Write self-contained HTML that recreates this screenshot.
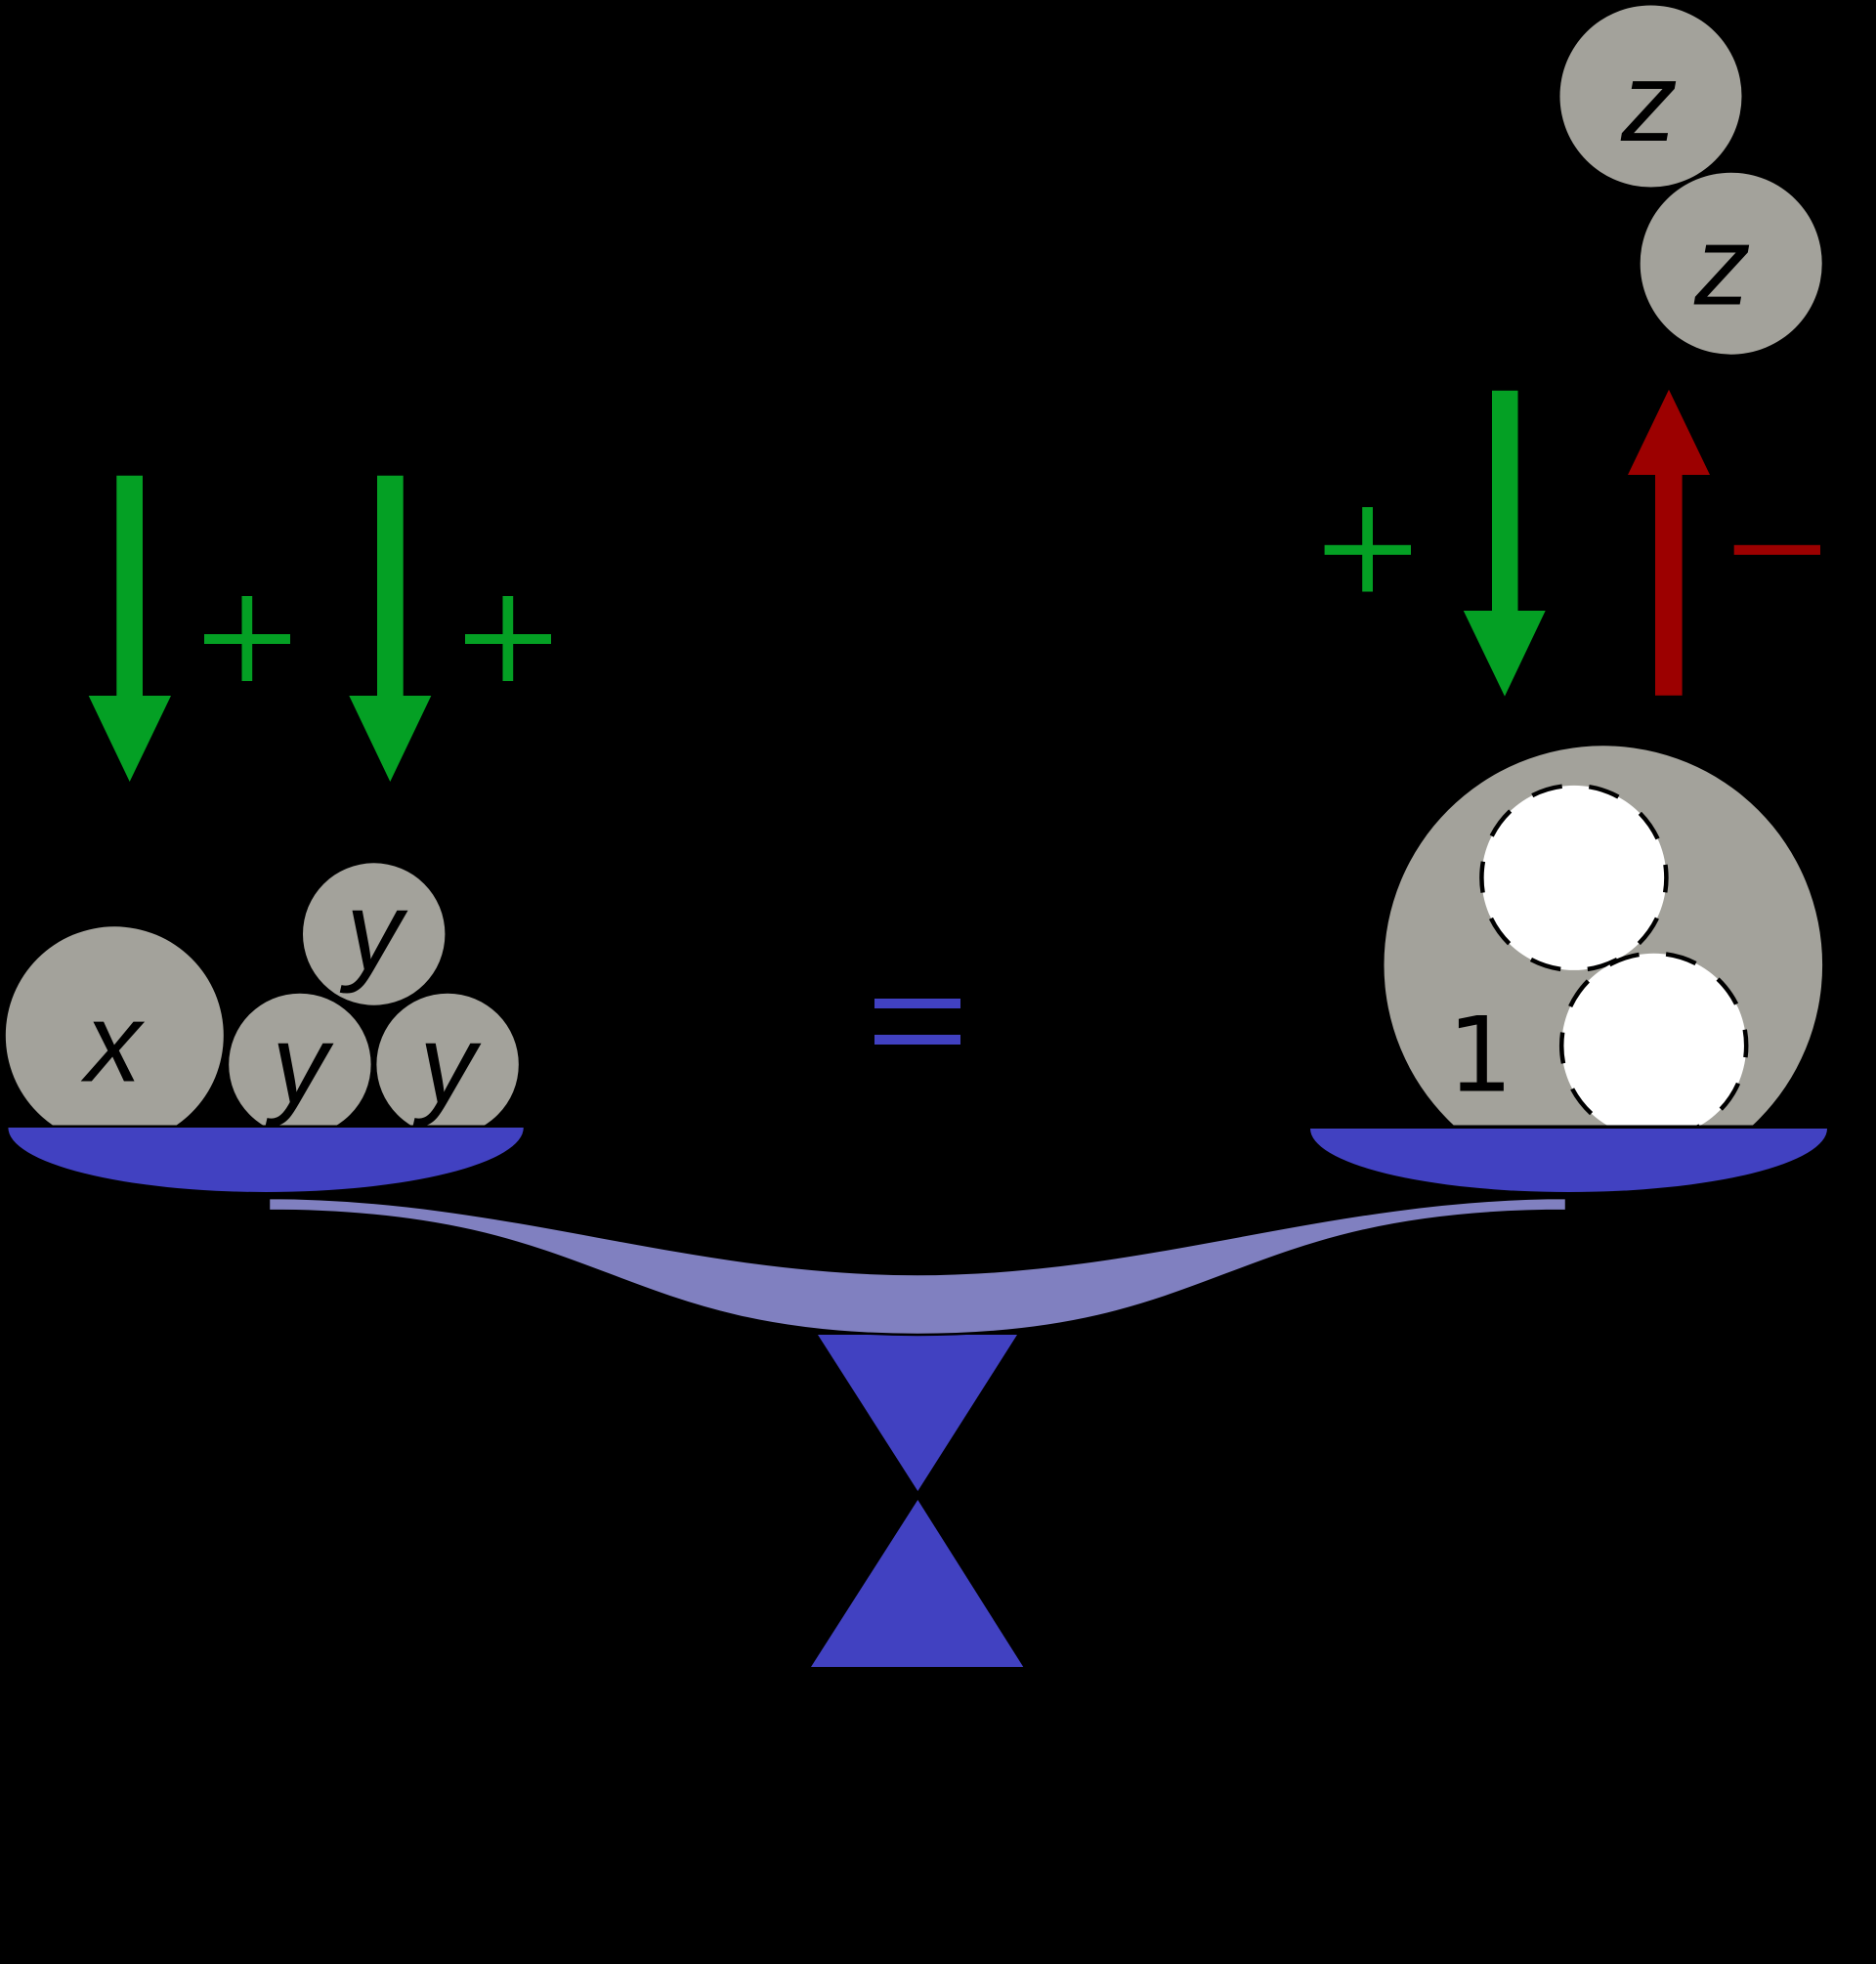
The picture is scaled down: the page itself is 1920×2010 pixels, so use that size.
<!DOCTYPE html>
<html>
<head>
<meta charset="utf-8">
<style>
html,body{margin:0;padding:0;background:#000;}
svg{display:block;}
text{font-family:"Liberation Sans","DejaVu Sans",sans-serif;fill:#000;}
</style>
</head>
<body>
<svg width="1920" height="2010" viewBox="0 0 1920 2010" xmlns="http://www.w3.org/2000/svg">
<defs>
<clipPath id="above">
<rect x="0" y="0" width="1920" height="1151.5"/>
</clipPath>
</defs>
<rect x="0" y="0" width="1920" height="2010" fill="#000"/>

<!-- Left green arrows -->
<polygon points="119.3,486.7 146,486.7 146,712 175,712 132.7,800 90.7,712 119.3,712" fill="#04a024"/>
<polygon points="386,486.7 412.7,486.7 412.7,712 441.3,712 399.3,800 357.3,712 386,712" fill="#04a024"/>
<!-- plus signs -->
<rect x="209" y="649" width="88" height="10" fill="#04a024"/>
<rect x="247.5" y="610" width="10.7" height="87" fill="#04a024"/>
<rect x="476" y="649" width="88" height="10" fill="#04a024"/>
<rect x="514.5" y="610" width="10.7" height="87" fill="#04a024"/>

<!-- Right green arrow -->
<polygon points="1527,399.7 1553.5,399.7 1553.5,625 1581.7,625 1540,712.6 1497.8,625 1527,625" fill="#04a024"/>
<rect x="1355.6" y="557.8" width="88.4" height="10" fill="#04a024"/>
<rect x="1394.2" y="519" width="10.8" height="86.5" fill="#04a024"/>

<!-- Red arrow -->
<polygon points="1708,398.8 1750,486 1721.6,486 1721.6,711.7 1694,711.7 1694,486 1666,486" fill="#9c0000"/>
<rect x="1774.7" y="557.8" width="88.3" height="10" fill="#9c0000"/>

<!-- z circles -->
<circle cx="1689.5" cy="98.5" r="93" fill="#a3a29b"/>
<circle cx="1771.7" cy="269.7" r="93" fill="#a3a29b"/>
<text x="1688" y="144" font-size="115" font-style="italic" text-anchor="middle">z</text>
<text x="1763" y="311.5" font-size="115" font-style="italic" text-anchor="middle">z</text>

<!-- Left pan contents -->
<g clip-path="url(#above)">
<circle cx="117.3" cy="1059.8" r="111.5" fill="#a3a29b"/>
<circle cx="306.9" cy="1089.4" r="72.7" fill="#a3a29b"/>
<circle cx="458.1" cy="1089.4" r="72.7" fill="#a3a29b"/>
<circle cx="382.7" cy="956" r="72.7" fill="#a3a29b"/>
<text x="116" y="1106.7" font-size="115" font-style="italic" text-anchor="middle">x</text>
<text x="383" y="992.5" font-size="115" font-style="italic" text-anchor="middle">y</text>
<text x="307" y="1128.3" font-size="115" font-style="italic" text-anchor="middle">y</text>
<text x="458" y="1128.3" font-size="115" font-style="italic" text-anchor="middle">y</text>
</g>

<!-- Right pan contents -->
<g clip-path="url(#above)">
<circle cx="1640.8" cy="987.6" r="224.3" fill="#a3a29b"/>
<circle cx="1610.9" cy="898.4" r="94.5" fill="#fff" stroke="#000" stroke-width="4.5" stroke-dasharray="32 27.7" stroke-dashoffset="17"/>
<circle cx="1692.7" cy="1070.2" r="94.5" fill="#fff" stroke="#000" stroke-width="4.5" stroke-dasharray="32 27.7" stroke-dashoffset="20"/>
<text x="1515" y="1116.7" font-size="106" text-anchor="middle" style="font-family:'DejaVu Sans','Liberation Sans',sans-serif">1</text>
</g>

<!-- equals -->
<rect x="895" y="1022" width="88" height="10" fill="#4141c1"/>
<rect x="895" y="1059" width="88" height="10" fill="#4141c1"/>

<!-- Pans -->
<path d="M 8.4 1154 A 263.7 66 0 0 0 535.8 1154 Z" fill="#4141c1"/>
<path d="M 1341 1155 A 264.5 65 0 0 0 1870 1155 Z" fill="#4141c1"/>

<!-- Stand -->
<polygon points="837,1366 1041,1366 939.3,1526" fill="#4141c1"/>
<polygon points="939.3,1535 1047.3,1706 830,1706" fill="#4141c1"/>

<!-- Beam -->
<path d="M 275 1226 C 520 1226 700 1304 939 1304 C 1178 1304 1358 1226 1603 1226 L 1603 1239 C 1260 1239 1253 1366 939 1366 C 625 1366 618 1239 275 1239 Z" fill="#8080c0" stroke="#000" stroke-width="2.5"/>
</svg>
</body>
</html>
